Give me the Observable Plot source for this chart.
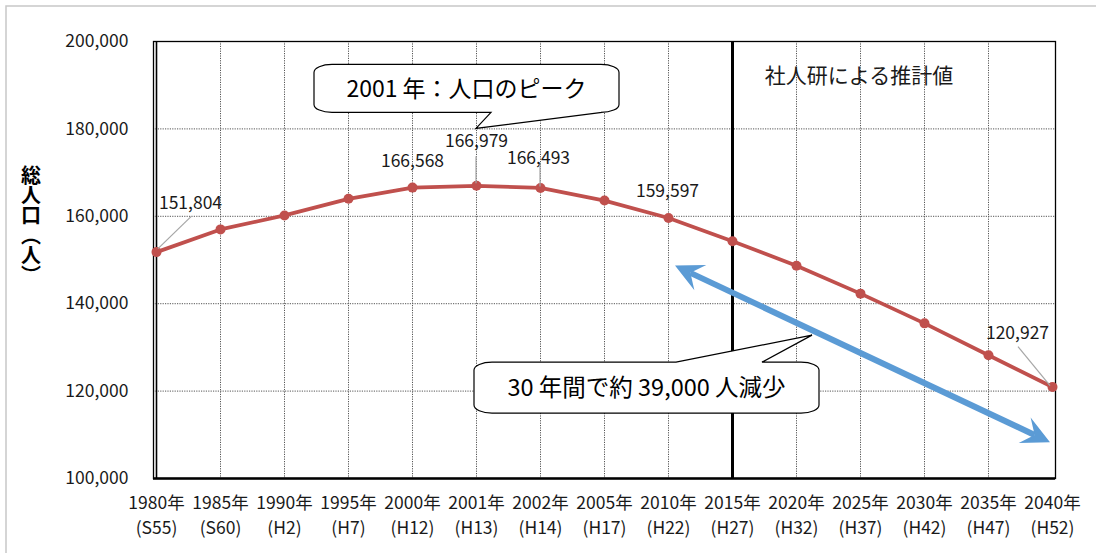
<!DOCTYPE html>
<html>
<head>
<meta charset="utf-8">
<script src="https://cdn.jsdelivr.net/npm/d3@7"></script>
<script src="https://cdn.jsdelivr.net/npm/@observablehq/plot@0.6"></script>
<style>
  html, body { margin: 0; padding: 0; background: #fff; overflow: hidden; }
</style>
</head>
<body>
<div id="chart"></div>
<script>
const years = ["1980年","1985年","1990年","1995年","2000年","2001年","2002年","2005年","2010年","2015年","2020年","2025年","2030年","2035年","2040年"];
const eras = ["S55","S60","H2","H7","H12","H13","H14","H17","H22","H27","H32","H37","H42","H47","H52"];
const population = [151804,157000,160200,164000,166568,166979,166493,163600,159597,154300,148700,142300,135500,128200,120927];
const yTicks = [100000,120000,140000,160000,180000,200000];
const labelledYears = ["1980年","2000年","2001年","2002年","2010年","2040年"];
const estimateStart = "2015年";
const estimateLabel = "社人研による推計値";
const peakNote = "2001 年：人口のピーク";
const declineNote = "30 年間で約 39,000 人減少";
const yTitle = "総人口（人）";

const data = years.map((y, i) => ({year: y, era: eras[i], pop: population[i]}));
const fmt = d3.format(",");
const FONT = "'Noto Sans CJK JP', 'Noto Sans', sans-serif";
const FS = 17.5;

// label offsets (pixels) keyed by year
const labelOffset = {
  "1980年": [34, -49], "2000年": [0, -26], "2001年": [0, -44],
  "2002年": [-2, -30], "2010年": [-1, -27], "2040年": [-35, -54]
};

const labelMarks = labelledYears.map(yr => Plot.text(data.filter(d => d.year === yr), {
  x: "year", y: "pop", text: d => fmt(d.pop),
  dx: labelOffset[yr][0], dy: labelOffset[yr][1], fontSize: FS, fill: "#1a1a1a"
}));

const grid = {stroke: "#555", strokeOpacity: 1, strokeDasharray: "1.2,1.2", strokeWidth: 1};

const plot = Plot.plot({
  width: 1096, height: 553,
  marginLeft: 153, marginRight: 41, marginTop: 41, marginBottom: 75,
  style: {fontFamily: FONT, fontSize: FS + "px", color: "#1a1a1a", background: "transparent"},
  x: {type: "point", domain: years, padding: 0, label: null},
  y: {domain: [100000, 200000], label: null},
  marks: [
    Plot.gridY(yTicks.slice(1, -1), grid),
    Plot.gridX(years.slice(1, -1), grid),
    Plot.frame({stroke: "#000", strokeWidth: 1.3}),
    Plot.ruleY([100000], {stroke: "#000", strokeWidth: 2.6}),
    Plot.ruleX([years[0]], {stroke: "#000", strokeWidth: 1.6}),
    Plot.ruleX([estimateStart], {stroke: "#000", strokeWidth: 3}),
    Plot.axisY({ticks: yTicks, tickSize: 0, tickPadding: 25, tickFormat: fmt, fontSize: FS, fill: "#1a1a1a"}),
    Plot.axisX({ticks: years, tickSize: 0, tickPadding: 13, lineHeight: 1.43, fontSize: FS, fill: "#1a1a1a",
      tickFormat: d => `${d}\n(${eras[years.indexOf(d)]})`}),
    Plot.line(data, {x: "year", y: "pop", stroke: "#C0504D", strokeWidth: 3.75}),
    Plot.dot(data, {x: "year", y: "pop", r: 5, fill: "#C0504D"}),
    ...labelMarks
  ]
});

document.getElementById("chart").appendChild(plot);

const X = v => plot.scale("x").apply(v);
const Y = v => plot.scale("y").apply(v);
const svg = d3.select(plot);

// outer grey border
svg.insert("rect", ":first-child").attr("x", 6).attr("y", 6).attr("width", 1200).attr("height", 1200)
  .attr("fill", "none").attr("stroke", "#c8c8c8").attr("stroke-width", 1.5);

// leader lines
const leader = svg.append("g").attr("stroke", "#a6a6a6").attr("stroke-width", 1.2);
const pt = yr => { const d = data.find(e => e.year === yr); return [X(d.year), Y(d.pop)]; };
{
  const [x0, y0] = pt("1980年");
  leader.append("line").attr("x1", x0 + 2).attr("y1", y0 - 3).attr("x2", x0 + 35).attr("y2", y0 - 35);
  const [x5, y5] = pt("2001年");
  leader.append("line").attr("x1", x5).attr("y1", y5 - 2).attr("x2", x5).attr("y2", y5 - 29);
  const [x6, y6] = pt("2002年");
  leader.append("line").attr("x1", x6).attr("y1", y6 - 1).attr("x2", x6).attr("y2", y6 - 23);
  const [x14, y14] = pt("2040年");
  leader.append("line").attr("x1", x14 - 2).attr("y1", y14 - 1).attr("x2", x14 - 34).attr("y2", y14 - 40);
}

// estimate label
svg.append("text").attr("x", X("2020年") + 63).attr("y", Y(200000) + 42)
  .attr("text-anchor", "middle").attr("font-size", 21).attr("fill", "#1a1a1a").text(estimateLabel);

// y title (vertical)
svg.append("text").attr("x", 31).attr("y", 225).attr("text-anchor", "middle")
  .attr("font-size", 20).attr("font-weight", "bold").attr("fill", "#000")
  .style("writing-mode", "vertical-rl").text(yTitle);

// blue double-headed arrow
{
  const s = [X("2010年") + 7, Y(148600)];
  const e = [X("2040年") - 2, Y(108200)];
  const dx = e[0] - s[0], dy = e[1] - s[1], len = Math.hypot(dx, dy);
  const u = [dx / len, dy / len], n = [-u[1], u[0]];
  const L = 28, W = 14, N = 17;
  const head = (tip, dir) => {
    const b = [tip[0] - dir[0] * L, tip[1] - dir[1] * L];
    const notch = [tip[0] - dir[0] * N, tip[1] - dir[1] * N];
    return `M${tip}L${b[0] + n[0] * W},${b[1] + n[1] * W}L${notch}L${b[0] - n[0] * W},${b[1] - n[1] * W}Z`;
  };
  const g = svg.append("g").attr("fill", "#5B9BD5");
  g.append("line").attr("x1", s[0] + u[0] * N).attr("y1", s[1] + u[1] * N)
    .attr("x2", e[0] - u[0] * N).attr("y2", e[1] - u[1] * N)
    .attr("stroke", "#5B9BD5").attr("stroke-width", 6);
  g.append("path").attr("d", head(e, u));
  g.append("path").attr("d", head(s, [-u[0], -u[1]]));
}

// callouts
function callout(L, T, R, B, tail, side, text, fs) {
  const rx = 18, ry = 8;
  let d;
  if (side === "bottom") {
    const [a, apex, b] = tail;
    d = `M${L + rx},${T}H${R - rx}A${rx},${ry} 0 0 1 ${R},${T + ry}V${B - ry}A${rx},${ry} 0 0 1 ${R - rx},${B}` +
        `L${a},${B}L${apex[0]},${apex[1]}L${b},${B}H${L + rx}A${rx},${ry} 0 0 1 ${L},${B - ry}V${T + ry}A${rx},${ry} 0 0 1 ${L + rx},${T}Z`;
  } else {
    const [a, apex, b] = tail;
    d = `M${L + rx},${T}H${a}L${apex[0]},${apex[1]}L${b},${T}H${R - rx}A${rx},${ry} 0 0 1 ${R},${T + ry}V${B - ry}A${rx},${ry} 0 0 1 ${R - rx},${B}` +
        `H${L + rx}A${rx},${ry} 0 0 1 ${L},${B - ry}V${T + ry}A${rx},${ry} 0 0 1 ${L + rx},${T}Z`;
  }
  svg.append("path").attr("d", d).attr("fill", "#fff").attr("stroke", "#000").attr("stroke-width", 1.2);
  svg.append("text").attr("x", (L + R) / 2).attr("y", (T + B) / 2).attr("dy", "0.36em")
    .attr("text-anchor", "middle").attr("font-size", fs).attr("fill", "#000").text(text);
}
{
  const ax = X("2001年"), ay = Y(180000);
  callout(ax - 162, ay - 64, ax + 143, ay - 16, [ax + 126, [ax, ay], ax + 15], "bottom", peakNote, 23);
  const bx = X("2020年") + 16, by = Y(132700);
  callout(bx - 338, by + 27, bx + 7, by + 78, [bx - 136, [bx, by], bx - 50], "top", declineNote, 23.5);
}
</script>
</body>
</html>
